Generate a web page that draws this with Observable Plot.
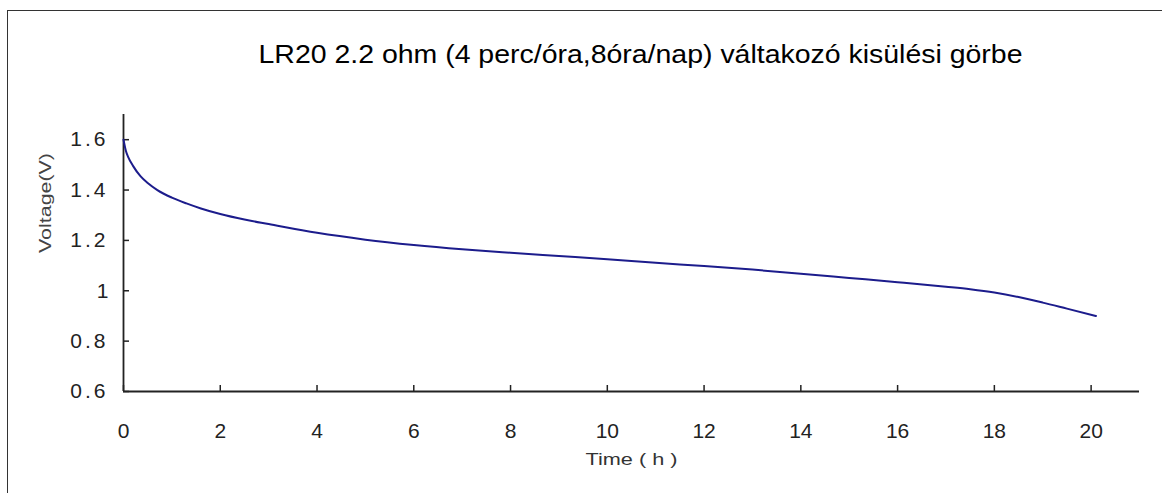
<!DOCTYPE html>
<html>
<head>
<meta charset="utf-8">
<script src="https://cdn.jsdelivr.net/npm/d3@7"></script>
<script src="https://cdn.jsdelivr.net/npm/@observablehq/plot@0.6"></script>
<style>
  html, body { margin: 0; padding: 0; background: #fff; overflow: hidden; width: 1162px; height: 493px; }
  #wrap { position: relative; width: 1162px; height: 493px; }
  #border { position: absolute; left: 7px; top: 10px; width: 2000px; height: 1000px; border: 1.5px solid #333; box-sizing: border-box; }
  #chart { position: absolute; left: 0; top: 0; }
</style>
</head>
<body>
<div id="wrap"><div id="border"></div><div id="chart"></div></div>
<script>
const titleText = "LR20 2.2 ohm (4 perc/óra,8óra/nap) váltakozó kisülési görbe";
const xLabel = "Time ( h )";
const yLabel = "Voltage(V)";

const times = [0, 0.05, 0.1, 0.2, 0.35, 0.5, 0.7, 1, 1.3, 1.6, 2, 2.5, 3, 4, 5, 6, 7, 8, 9, 10, 11, 12, 13, 14, 15, 16, 17, 17.5, 18, 18.5, 19, 19.5, 20.1];
const volts = [1.600, 1.555, 1.530, 1.495, 1.455, 1.428, 1.400, 1.370, 1.347, 1.327, 1.305, 1.283, 1.265, 1.230, 1.203, 1.182, 1.165, 1.151, 1.138, 1.125, 1.111, 1.098, 1.084, 1.068, 1.051, 1.034, 1.016, 1.006, 0.993, 0.975, 0.953, 0.929, 0.900];

const xTicks = [0, 2, 4, 6, 8, 10, 12, 14, 16, 18, 20];
const yTicks = [0.6, 0.8, 1, 1.2, 1.4, 1.6];

const data = times.map((t, i) => ({t, v: volts[i]}));

const chart = Plot.plot({
  width: 1162,
  height: 493,
  marginLeft: 123,
  marginRight: 23,
  marginTop: 114,
  marginBottom: 102,
  style: {fontFamily: "'Liberation Sans', Arial, sans-serif", background: "transparent", color: "#222"},
  x: {domain: [0, 21]},
  y: {domain: [0.6, 1.7]},
  marks: [
    Plot.axisX({ticks: xTicks, tickSize: -6, tickPadding: 38, label: null, stroke: "#222", strokeWidth: 1.5, tickFormat: d => String(d)}),
    Plot.axisY({ticks: yTicks, tickSize: -6, tickPadding: 21, label: null, stroke: "#222", strokeWidth: 1.5, tickFormat: d => d === 1 ? "1" : d.toFixed(1)}),
    Plot.ruleX([0], {stroke: "#222", strokeWidth: 1.8}),
    Plot.ruleY([0.6], {stroke: "#222", strokeWidth: 1.8}),
    Plot.line(data, {x: "t", y: "v", stroke: "#1c1c8c", strokeWidth: 2, curve: "monotone-x"}),
    Plot.text([titleText], {frameAnchor: "top", dx: 9, dy: -69, fontSize: 25, fill: "#000"}),
    Plot.text([xLabel], {frameAnchor: "bottom", dy: 73, fontSize: 16, fill: "#333"}),
    Plot.text([yLabel], {frameAnchor: "left", dx: -78, rotate: -90, fontSize: 16, fill: "#444"})
  ]
});
document.getElementById("chart").appendChild(chart);

// stretch texts horizontally to match the reference's wide lettering
const stretch = {[titleText]: 764, [xLabel]: 92, [yLabel]: 100};
d3.select(chart).selectAll("text").each(function() {
  const s = this.textContent;
  const el = d3.select(this);
  if (stretch[s]) {
    el.attr("textLength", stretch[s]).attr("lengthAdjust", "spacingAndGlyphs");
  } else {
    el.style("font-size", "21px").style("fill", "#222");
    if (s.includes(".")) el.attr("letter-spacing", "3px");
  }
});
</script>
</body>
</html>
